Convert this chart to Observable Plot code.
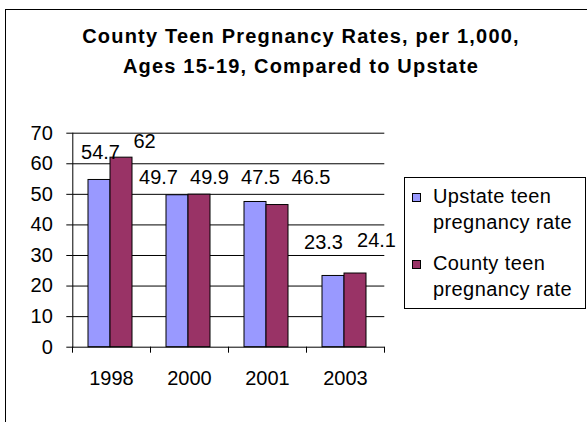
<!DOCTYPE html>
<html>
<head>
<meta charset="utf-8">
<script src="https://cdn.jsdelivr.net/npm/d3@7"></script>
<script src="https://cdn.jsdelivr.net/npm/@observablehq/plot@0.6"></script>
<style>
  html, body { margin: 0; padding: 0; background: #fff; overflow: hidden; }
  #wrap { position: relative; width: 587px; height: 422px; font-family: "Liberation Sans", Arial, sans-serif; color: #000; }
  #frame { position: absolute; left: 5px; top: 9px; width: 700px; height: 600px; border: 1px solid #000; }
  #title { position: absolute; left: 13px; top: 21.4px; width: 576px; text-align: center; font-weight: bold; font-size: 20px; line-height: 30px; letter-spacing: 1.2px; }
  #chart { position: absolute; left: 0; top: 100px; }
  #legend { position: absolute; left: 404px; top: 177px; width: 180px; height: 130px; border: 1px solid #000; background: #fff; }
  .sw { position: absolute; left: 7px; width: 7px; height: 7px; border: 1px solid #000; }
  .lt { position: absolute; left: 28px; font-size: 20px; line-height: 26px; letter-spacing: 0.4px; white-space: nowrap; }
</style>
</head>
<body>
<div id="wrap">
  <div id="frame"></div>
  <div id="title">County Teen Pregnancy Rates, per 1,000,<br>Ages 15-19, Compared to Upstate</div>
  <div id="chart"></div>
  <div id="legend"></div>
</div>
<script>
// ---- data ----
const years = ["1998", "2000", "2001", "2003"];
const upstate = [54.7, 49.7, 47.5, 23.3];
const county = [62, 49.9, 46.5, 24.1];
const seriesNames = ["Upstate teen\npregnancy rate", "County teen\npregnancy rate"];
const yTicks = [0, 10, 20, 30, 40, 50, 60, 70];

// ---- styles ----
const colors = ["#9999FF", "#993366"];
// label nudges in pixels [dx from band centre, baseline offset]
const upstateNudge = [[-11, -21], [-31, -11.5], [-7, -18], [-22, -27]];
const countyNudge = [[33, -9.5], [20, -11], [43.5, -21], [31, -27]];
const fs = 20;

const upRows = years.map((y, i) => ({year: y, value: upstate[i]}));
const coRows = years.map((y, i) => ({year: y, value: county[i]}));

const labelMarks = [];
upRows.forEach((r, i) => labelMarks.push(Plot.text([r], {x: "year", y: "value", text: d => String(d.value), fill: "#000", dx: upstateNudge[i][0], dy: upstateNudge[i][1] - 0.32 * fs})));
coRows.forEach((r, i) => labelMarks.push(Plot.text([r], {x: "year", y: "value", text: d => String(d.value), fill: "#000", dx: countyNudge[i][0], dy: countyNudge[i][1] - 0.32 * fs})));

const chart = Plot.plot({
  width: 587,
  height: 322,
  marginTop: 32.7,
  marginBottom: 75.3,
  marginLeft: 72.3,
  marginRight: 202.7,
  style: {fontFamily: "'Liberation Sans', Arial, sans-serif", fontSize: fs + "px", color: "#000", background: "transparent", overflow: "visible"},
  x: {domain: years, padding: 0, tickSize: 0, tickPadding: 24, label: null},
  y: {domain: [0, 70], ticks: yTicks, tickSize: 6, tickPadding: 14, label: null, line: true},
  marks: [
    Plot.ruleY(yTicks.filter(t => t > 0), {stroke: "#000"}),
    Plot.barY(upRows, {x: "year", y: "value", fill: colors[0], stroke: "#000", strokeWidth: 1, insetLeft: 16, insetRight: 40}),
    Plot.barY(coRows, {x: "year", y: "value", fill: colors[1], stroke: "#000", strokeWidth: 1, insetLeft: 38, insetRight: 18}),
    Plot.ruleY([0], {stroke: "#000"}),
    Plot.ruleX(years, {x: d => d, y1: 0, y2: 0, insetBottom: -6, dx: -39, stroke: "#000"}),
    Plot.ruleX(years.slice(-1), {x: d => d, y1: 0, y2: 0, insetBottom: -6, dx: 39, stroke: "#000"}),
    ...labelMarks
  ]
});
document.getElementById("chart").appendChild(chart);

// legend
const legend = document.getElementById("legend");
const entryTops = [5, 72];
seriesNames.forEach((name, i) => {
  const sw = document.createElement("div");
  sw.className = "sw";
  sw.style.top = (entryTops[i] + 10) + "px";
  sw.style.background = colors[i];
  legend.appendChild(sw);
  const t = document.createElement("div");
  t.className = "lt";
  t.style.top = entryTops[i] + "px";
  t.innerHTML = name.split("\n").join("<br>");
  legend.appendChild(t);
});
</script>
</body>
</html>
